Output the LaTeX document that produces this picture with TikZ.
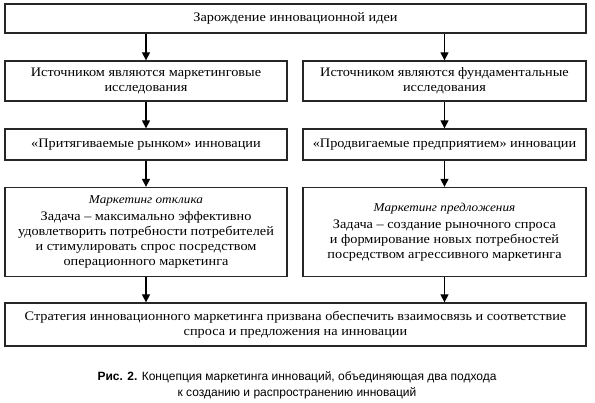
\documentclass[tikz,border=0pt]{standalone}
\usepackage{fontspec}
\setmainfont[FakeStretch=1.1]{Liberation Serif}
\newfontfamily\capfont{Liberation Sans}
\usetikzlibrary{arrows.meta}
\begin{document}
\begin{tikzpicture}[x=1pt,y=-1pt,
  box/.style={draw=black!85, line width=1.3pt, inner sep=2pt, align=center, font=\fontsize{13}{15}\selectfont},
  arr/.style={line width=1.3pt, -{Triangle[length=8pt,width=8pt]}}]
\useasboundingbox (0,0) rectangle (595,403);
\node[box, minimum width=581pt, minimum height=29pt] (top) at (295.5,18.5) {Зарождение инновационной идеи};
\node[box, minimum width=282pt, minimum height=40pt] (L2) at (146,81) {Источником являются маркетинговые\\исследования};
\node[box, minimum width=283pt, minimum height=40pt] (R2) at (444.5,81) {Источником являются фундаментальные\\исследования};
\node[box, minimum width=282pt, minimum height=31pt] (L3) at (146,144.5) {«Притягиваемые рынком» инновации};
\node[box, minimum width=283pt, minimum height=31pt] (R3) at (444.5,144.5) {«Продвигаемые предприятием» инновации};
\node[box, minimum width=282pt, minimum height=89pt] (L4) at (146,232) {{\fontsize{12}{14}\selectfont\itshape Маркетинг отклика}\\[2pt]Задача -- максимально эффективно\\удовлетворить потребности потребителей\\и стимулировать спрос посредством\\операционного маркетинга};
\node[box, minimum width=283pt, minimum height=89pt] (R4) at (444.5,232) {{\fontsize{12}{14}\selectfont\itshape Маркетинг предложения}\\[2pt]Задача -- создание рыночного спроса\\и формирование новых потребностей\\посредством агрессивного маркетинга};
\node[box, minimum width=581pt, minimum height=43pt] (bot) at (295.5,324.5) {Стратегия инновационного маркетинга призвана обеспечить взаимосвязь и соответствие\\спроса и предложения на инновации};
\node[align=center, font=\capfont\fontsize{12}{16}\selectfont] (cap) at (297,385.5) {{\bfseries Рис. 2.} Концепция маркетинга инноваций, объединяющая два подхода\\к созданию и распространению инноваций};
\draw[arr] (L2.north |- top.south) -- (L2.north);
\draw[arr] (R2.north |- top.south) -- (R2.north);
\draw[arr] (L2.south) -- (L3.north);
\draw[arr] (R2.south) -- (R3.north);
\draw[arr] (L3.south) -- (L4.north);
\draw[arr] (R3.south) -- (R4.north);
\draw[arr] (L4.south) -- (L4.south |- bot.north);
\draw[arr] (R4.south) -- (R4.south |- bot.north);
\end{tikzpicture}
\end{document}
